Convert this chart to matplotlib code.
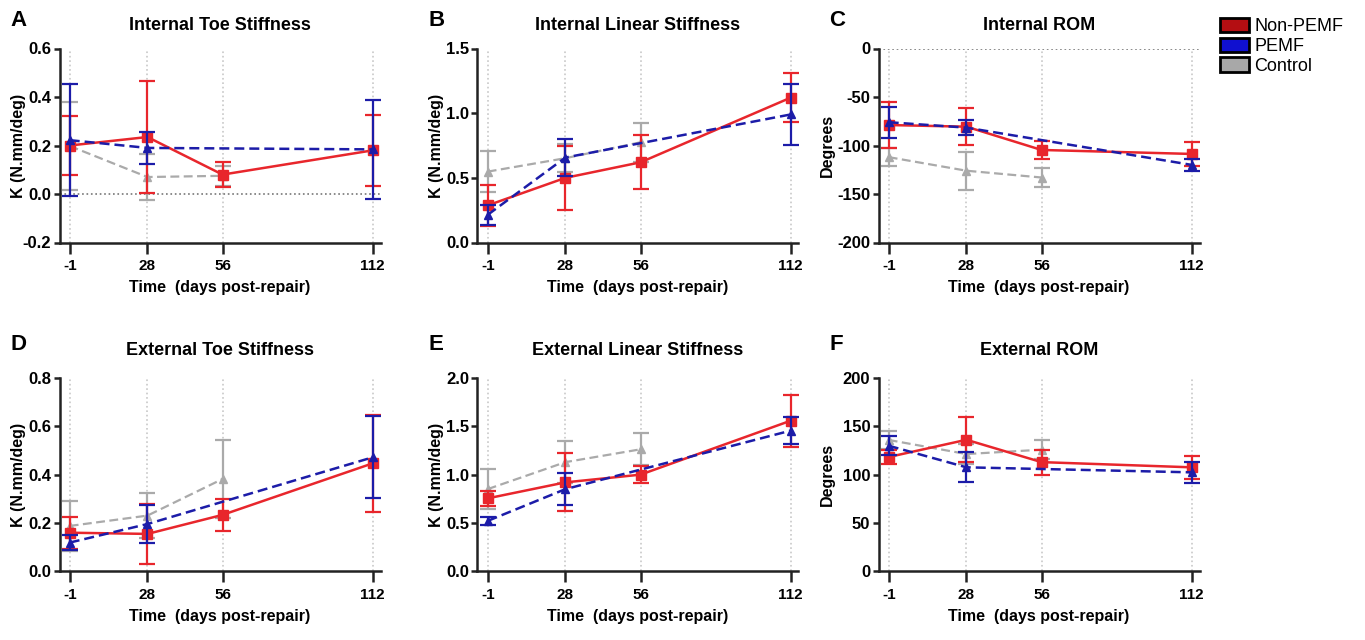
import matplotlib
matplotlib.use('Agg')
import matplotlib.pyplot as plt
from matplotlib.patches import Patch
import numpy as np

plt.rcParams['font.family'] = ['Liberation Sans', 'DejaVu Sans']

days = [-1, 28, 56, 112]
nan = np.nan

# Internal toe stiffness
a_non = [0.20, 0.235, 0.08, 0.18]
a_non_err = [0.12, 0.23, 0.05, 0.147]
a_pemf = [0.222, 0.19, nan, 0.184]
a_pemf_err = [0.23, 0.065, nan, 0.205]
a_ctrl = [0.198, 0.07, 0.075, nan]
a_ctrl_err = [0.18, 0.095, 0.04, nan]

# Internal linear stiffness
b_non = [0.287, 0.50, 0.62, 1.12]
b_non_err = [0.156, 0.25, 0.21, 0.19]
b_pemf = [0.214, 0.657, nan, 0.99]
b_pemf_err = [0.076, 0.14, nan, 0.236]
b_ctrl = [0.548, 0.652, 0.775, nan]
b_ctrl_err = [0.157, 0.11, 0.15, nan]

# Internal ROM
c_non = [-78.9, -80.6, -104.6, -108.7]
c_non_err = [24, 19, 9.3, 12.7]
c_pemf = [-76, -81.6, nan, -120]
c_pemf_err = [16, 7.4, nan, 6]
c_ctrl = [-112, -126, -133, nan]
c_ctrl_err = [9, 19.5, 10, nan]

# External toe stiffness
d_non = [0.159, 0.154, 0.233, 0.447]
d_non_err = [0.067, 0.125, 0.066, 0.2]
d_pemf = [0.118, 0.195, nan, 0.472]
d_pemf_err = [0.03, 0.077, nan, 0.17]
d_ctrl = [0.187, 0.23, 0.382, nan]
d_ctrl_err = [0.105, 0.092, 0.162, nan]

# External linear stiffness
e_non = [0.754, 0.92, 1.0, 1.56]
e_non_err = [0.08, 0.30, 0.09, 0.27]
e_pemf = [0.52, 0.85, nan, 1.457]
e_pemf_err = [0.04, 0.17, nan, 0.14]
e_ctrl = [0.85, 1.13, 1.263, nan]
e_ctrl_err = [0.21, 0.22, 0.165, nan]

# External ROM
f_non = [118.3, 136.2, 113, 107.6]
f_non_err = [7, 23.5, 13, 12]
f_pemf = [130, 107.6, nan, 102.4]
f_pemf_err = [10, 15.5, nan, 11]
f_ctrl = [136, 121.4, 125.9, nan]
f_ctrl_err = [9, 10.5, 10, nan]

panels = [
  ('A', 'Internal Toe Stiffness', 'K (N.mm/deg)', (-0.2, 0.6), [-0.2, 0.0, 0.2, 0.4, 0.6], '{:.1f}', True,
   (a_non, a_non_err), (a_pemf, a_pemf_err), (a_ctrl, a_ctrl_err)),
  ('B', 'Internal Linear Stiffness', 'K (N.mm/deg)', (0, 1.5), [0.0, 0.5, 1.0, 1.5], '{:.1f}', False,
   (b_non, b_non_err), (b_pemf, b_pemf_err), (b_ctrl, b_ctrl_err)),
  ('C', 'Internal ROM', 'Degrees', (-200, 0), [-200, -150, -100, -50, 0], '{:.0f}', True,
   (c_non, c_non_err), (c_pemf, c_pemf_err), (c_ctrl, c_ctrl_err)),
  ('D', 'External Toe Stiffness', 'K (N.mm/deg)', (0, 0.8), [0.0, 0.2, 0.4, 0.6, 0.8], '{:.1f}', False,
   (d_non, d_non_err), (d_pemf, d_pemf_err), (d_ctrl, d_ctrl_err)),
  ('E', 'External Linear Stiffness', 'K (N.mm/deg)', (0, 2.0), [0.0, 0.5, 1.0, 1.5, 2.0], '{:.1f}', False,
   (e_non, e_non_err), (e_pemf, e_pemf_err), (e_ctrl, e_ctrl_err)),
  ('F', 'External ROM', 'Degrees', (0, 200), [0, 50, 100, 150, 200], '{:.0f}', False,
   (f_non, f_non_err), (f_pemf, f_pemf_err), (f_ctrl, f_ctrl_err)),
]

RED = '#e8262c'
BLUE = '#1c1ca8'
GRAY = '#aaaaaa'

W, H = 1365, 640
fig = plt.figure(figsize=(W / 100, H / 100), dpi=100)

lefts = [59.5, 477.5, 878.5]
rows = [(48.5, 242.5), (378.3, 571)]
letter_y = [21, 344]
title_pad = [13, 17]
axw = 321


def draw(ax, vals, errs, color, marker, ls, lw, ms, z):
  x = np.array(days, dtype=float)
  y = np.array(vals, dtype=float)
  e = np.array(errs, dtype=float)
  m = ~np.isnan(y)
  ax.errorbar(x[m], y[m], yerr=e[m], color=color, marker=marker, markersize=ms,
              linestyle=ls, linewidth=lw, elinewidth=1.6, capsize=6, capthick=1.6,
              zorder=z)


for i, p in enumerate(panels):
  letter, title, ylabel, ylim, yticks, fmt, zero_line, non, pemf, ctrl = p
  r, c = divmod(i, 3)
  top, bot = rows[r]
  left = lefts[c]
  ax = fig.add_axes([left / W, (H - bot) / H, axw / W, (bot - top) / H])

  for d in days:
    ax.axvline(d, color='#c8c8c8', linestyle=':', linewidth=1.2, zorder=0)
  if zero_line:
    ax.axhline(0, color='#777777', linestyle=':', linewidth=1.2, zorder=0)

  draw(ax, ctrl[0], ctrl[1], GRAY, '^', (0, (4, 2)), 1.6, 6, 2)
  draw(ax, non[0], non[1], RED, 's', '-', 1.8, 6.5, 3)
  draw(ax, pemf[0], pemf[1], BLUE, '^', (0, (4, 2)), 1.8, 6, 4)

  ax.set_xlim(-4.8, 114.9)
  ax.set_ylim(*ylim)
  ax.set_xticks(days)
  ax.set_xticklabels([str(d) for d in days], fontsize=11, fontweight='bold')
  ax.set_yticks(yticks)
  ax.set_yticklabels([fmt.format(t) for t in yticks], fontsize=12, fontweight='bold')

  for s in ['top', 'right']:
    ax.spines[s].set_visible(False)
  for s in ['left', 'bottom']:
    ax.spines[s].set_linewidth(1.8)
    ax.spines[s].set_color('#222222')
  ax.tick_params(axis='x', length=8, width=1.8, pad=4, color='#222222')
  ax.tick_params(axis='y', length=4, width=1.8, pad=2, color='#222222')

  ax.set_xlabel('Time  (days post-repair)', fontsize=11.5, fontweight='bold', labelpad=5)
  ax.set_ylabel(ylabel, fontsize=11.5, fontweight='bold')
  ax.yaxis.set_label_coords(-0.135 if ylabel == 'Degrees' else -0.105, 0.5)

  ax.set_title(title, fontsize=13, fontweight='bold', pad=title_pad[r])
  fig.text((left - 49) / W, (H - letter_y[r]) / H, letter, fontsize=16, fontweight='bold',
           ha='left', va='center')

handles = [Patch(facecolor='#b40e12', edgecolor='black', linewidth=2),
           Patch(facecolor='#1010d0', edgecolor='black', linewidth=2),
           Patch(facecolor='#a8a8a8', edgecolor='black', linewidth=2)]
fig.legend(handles, ['Non-PEMF', 'PEMF', 'Control'], loc='upper left',
           bbox_to_anchor=(1220 / W, 1 - 18 / H), frameon=False, fontsize=13,
           handlelength=1.6, handleheight=0.85, handletextpad=0.3,
           labelspacing=0.12, borderpad=0, borderaxespad=0)

fig.savefig('out.png', dpi=100)
